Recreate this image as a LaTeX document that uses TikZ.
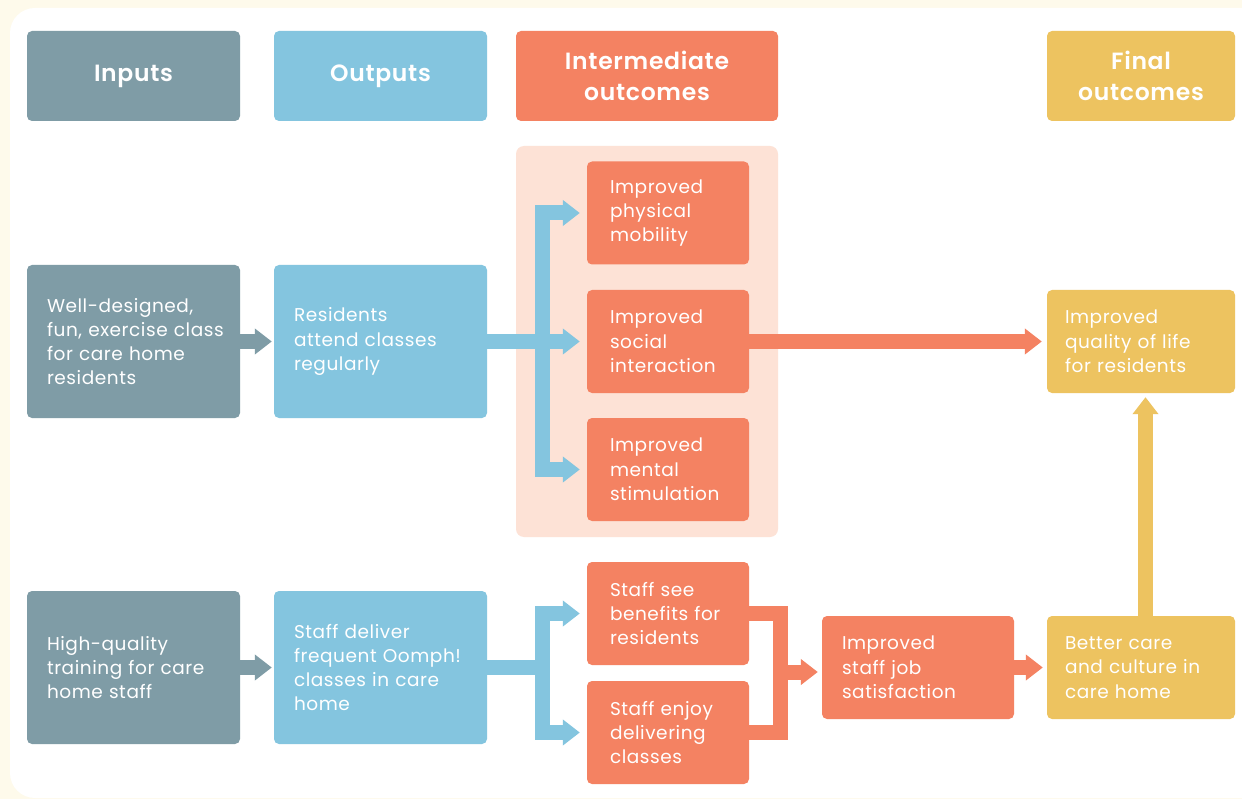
\documentclass[tikz,border=0pt]{standalone}
\usepackage{fontspec}
\setmainfont{Poppins}[LetterSpace=3,BoldFont={Poppins SemiBold}]
\usetikzlibrary{arrows.meta}

\definecolor{creamc}{HTML}{FEFAEB}
\definecolor{inputc}{HTML}{7F9CA6}
\definecolor{outputc}{HTML}{84C5DF}
\definecolor{midc}{HTML}{F48262}
\definecolor{panelc}{HTML}{FDE2D6}
\definecolor{finalc}{HTML}{EDC360}

\begin{document}
\begin{tikzpicture}[x=1pt,y=-1pt,
    box/.style={rounded corners=5pt,text=white,align=left,inner xsep=20pt,inner ysep=0pt,
        font=\fontsize{18.5}{24.3}\selectfont},
    head/.style={rounded corners=5pt,text=white,align=center,minimum height=90pt,
        font=\bfseries\fontsize{23.5}{31}\selectfont},
    inbox/.style={box,fill=inputc,text width=173pt,minimum height=153pt},
    outbox/.style={box,fill=outputc,text width=173pt,minimum height=153pt},
    midbox/.style={box,fill=midc,inner xsep=23pt,text width=116pt,minimum height=103pt},
    finbox/.style={box,fill=finalc,inner xsep=18pt,text width=152pt,minimum height=103pt},
    flow/.style={line width=15pt,-{Triangle[length=17pt,width=25pt]}},
    bar/.style={line width=15pt}]
    \useasboundingbox (0,0) rectangle (1242,799);
    \clip (0,0) rectangle (1242,799);
    % background
    \fill[creamc] (0,0) rectangle (1242,799);
    \fill[white,rounded corners=25pt] (10,8) rectangle (1290,798);
    \fill[panelc,rounded corners=8pt] (516,146) rectangle (778,537);

    % headers
    \node[head,fill=inputc,minimum width=213pt] (hin) at (133.5,76) {Inputs};
    \node[head,fill=outputc,minimum width=213pt] (hout) at (380.5,76) {Outputs};
    \node[head,fill=midc,minimum width=262pt] (hmid) at (647,76) {Intermediate\\outcomes};
    \node[head,fill=finalc,minimum width=188pt] (hfin) at (1141,76) {Final\\outcomes};

    % residents row
    \node[inbox] (in1) at (133.5,341.5) {Well-designed,\\\mbox{fun, exercise class}\\for care home\\residents};
    \node[outbox] (out1) at (380.5,341.5) {Residents\\attend classes\\regularly};
    \node[midbox] (phys) at (668,213) {Improved\\physical\\mobility};
    \node[midbox] (soc) at (668,341.5) {Improved\\social\\interaction};
    \node[midbox] (ment) at (668,469.5) {Improved\\mental\\stimulation};
    \node[finbox] (qual) at (1141,341.5) {Improved\\quality of life\\for residents};

    % staff row
    \node[inbox] (in2) at (133.5,667.5) {High-quality\\training for care\\home staff};
    \node[outbox] (out2) at (380.5,667.5) {Staff deliver\\frequent Oomph!\\classes in care\\home};
    \node[midbox] (see) at (668,613.5) {Staff see\\benefits for\\residents};
    \node[midbox] (enjoy) at (668,732.5) {Staff enjoy\\delivering\\classes};
    \node[midbox,inner xsep=20pt,text width=152pt] (job) at (918,667.5) {Improved\\staff job\\satisfaction};
    \node[finbox] (better) at (1141,667.5) {Better care\\and culture in\\care home};

    % arrows
    \coordinate (split1) at (542.5,341.5);
    \coordinate (split2) at (542.5,667.5);
    \coordinate (merge) at (780.5,672);
    \draw[flow,inputc,shorten >=2pt] (in1) -- (out1);
    \draw[flow,inputc,shorten >=2pt] (in2) -- (out2);
    \draw[flow,outputc,shorten >=7pt] (out1) -- (soc);
    \draw[flow,outputc,shorten >=7pt] (split1) |- (phys);
    \draw[flow,outputc,shorten >=7pt] (split1) |- (ment);
    \draw[bar,outputc] (out2) -- (split2);
    \draw[flow,outputc,shorten >=7pt] (split2) |- (see);
    \draw[flow,outputc,shorten >=7pt] (split2) |- (enjoy);
    \draw[bar,midc] (see) -| (merge);
    \draw[bar,midc] (enjoy) -| (merge);
    \draw[flow,midc,shorten >=4pt] (merge) -- (merge -| job.west);
    \draw[flow,midc,shorten >=4pt] (job) -- (better);
    \draw[flow,midc,shorten >=5pt] (soc) -- (qual);
    \draw[flow,finalc,shorten >=4pt] ([xshift=4.5pt]better.north) -- ([xshift=4.5pt]qual.south);
\end{tikzpicture}
\end{document}
